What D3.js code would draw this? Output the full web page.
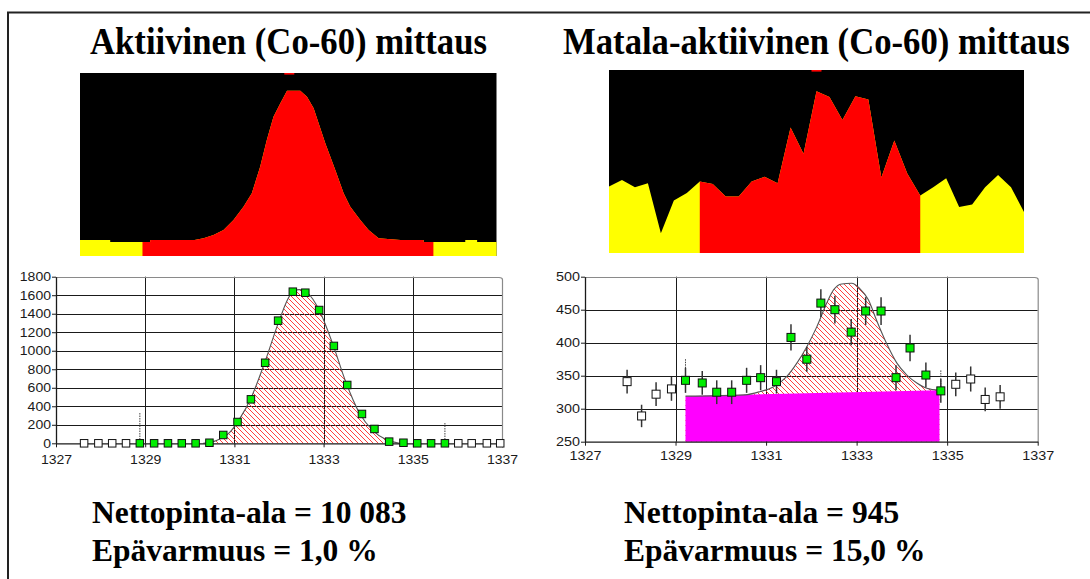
<!DOCTYPE html>
<html><head><meta charset="utf-8">
<script src="https://cdn.jsdelivr.net/npm/d3@7"></script>
<style>
html,body{margin:0;padding:0;background:#fff;}
svg{display:block;}
</style></head><body>
<svg id="c" width="1090" height="579"></svg>
<script>
// ---------- DATA ----------
const titles = ["Aktiivinen (Co-60) mittaus", "Matala-aktiivinen (Co-60) mittaus"];
const netAreas = ["10 083", "945"];
const uncertainties = ["1,0", "15,0"];

// top-left MCA spectrum (channel position, counts)
const topLeftX = [1322, 1323.45, 1323.45, 1325.37, 1325.37, 1327.5, 1327.93, 1328.41, 1328.89, 1329.37, 1329.85, 1330.25, 1330.65, 1330.97, 1331.29, 1331.62, 1331.94, 1332.58, 1332.9, 1333.22, 1333.46, 1333.78, 1334.26, 1334.66, 1334.98, 1335.46, 1335.86, 1336.34, 1337.39, 1338.5, 1338.5, 1340.5, 1340.5, 1341.07, 1341.07, 1342];
const topLeftCounts = [175, 175, 153, 153, 175, 175, 193, 230, 284, 393, 539, 685, 976, 1268, 1523, 1669, 1807, 1807, 1741, 1614, 1450, 1232, 940, 685, 539, 393, 284, 193, 175, 175, 153, 153, 175, 175, 153, 153];
const topLeftRoi = [1325.0, 1338.97];
const topLeftPeak = 1332.05;

// top-right MCA spectrum (one value per channel)
const topRightCounts = [344, 352, 343, 348, 287, 327, 336, 350, 347, 332, 332, 350, 356, 348, 416, 384, 460, 453, 425, 454, 450, 355, 400, 360, 333, 343, 354, 319, 322, 343, 358, 343, 313];
const topRightRoi = [7, 24];
const topRightPeak = 16;

// bottom-left fit chart
const xTicks = [1327, 1329, 1331, 1333, 1335, 1337];
const xGrid = [1329, 1331, 1333, 1335];
const leftYTicks = [0, 200, 400, 600, 800, 1000, 1200, 1400, 1600, 1800];
const leftKeV = [1327.63, 1327.95, 1328.26, 1328.57, 1328.88, 1329.20, 1329.51, 1329.82, 1330.13, 1330.44, 1330.75, 1331.07, 1331.37, 1331.69, 1331.98, 1332.31, 1332.59, 1332.90, 1333.23, 1333.53, 1333.86, 1334.14, 1334.47, 1334.79, 1335.10, 1335.41, 1335.72, 1336.02, 1336.32, 1336.66, 1336.96];
const leftCounts = [0, 0, 0, 0, 0, 0, 0, 0, 0, 6, 90, 230, 475, 870, 1325, 1638, 1627, 1440, 1052, 630, 317, 155, 18, 6, 0, 0, 0, 0, 0, 0, 0];
const leftRoi = [1328.88, 1335.72];
const leftRoiMarkTop = [327, 219];
const leftFitKeV = [1330.3, 1330.6, 1330.9, 1331.1, 1331.4, 1331.7, 1332.0, 1332.25, 1332.45, 1332.65, 1332.9, 1333.2, 1333.5, 1333.8, 1334.1, 1334.4, 1334.7];
const leftFitCounts = [0, 30, 120, 250, 520, 900, 1320, 1600, 1660, 1620, 1440, 1080, 660, 330, 140, 40, 0];

// bottom-right fit chart
const rightYTicks = [250, 300, 350, 400, 450, 500];
const rightKeV = [1327.93, 1328.25, 1328.57, 1328.91, 1329.22, 1329.59, 1329.91, 1330.24, 1330.57, 1330.88, 1331.23, 1331.55, 1331.90, 1332.21, 1332.52, 1332.88, 1333.20, 1333.54, 1333.87, 1334.18, 1334.53, 1334.86, 1335.19, 1335.52, 1335.84, 1336.17];
const rightCounts = [341, 289, 322, 330, 343, 339, 325, 325, 343, 347, 341, 408, 375, 460, 450, 416, 448, 448, 347, 392, 351, 327, 337, 345, 314, 318];
const rightErrors = [18, 17, 18, 18, 19, 18, 18, 18, 19, 19, 18, 20, 19, 21, 21, 20, 21, 21, 19, 20, 19, 18, 18, 19, 18, 18];
const rightRoi = [1329.22, 1334.86];
const rightRoiMarkTop = [375, 358];
const rightBgKeV = [1329.22, 1334.83];
const rightBgCounts = [319, 328];
const rightFitKeV = [1329.22, 1330.53, 1330.87, 1331.16, 1331.46, 1331.68, 1331.90, 1332.12, 1332.34, 1332.49, 1332.67, 1332.89, 1333.07, 1333.26, 1333.44, 1333.66, 1333.89, 1334.11, 1334.33, 1334.55, 1334.83];
const rightFitCounts = [319, 321, 326, 333, 349, 369, 394, 424, 460, 480, 489, 490, 482, 465, 434, 399, 369, 351, 339, 331, 328];

// ---------- DRAW ----------
const svg = d3.select("#c");
const serif = "'Liberation Serif','Times New Roman',serif";
const sans = "'Liberation Sans',Arial,sans-serif";

const defs = svg.append("defs");
const pat = defs.append("pattern").attr("id", "hatch")
  .attr("patternUnits", "userSpaceOnUse").attr("width", 5).attr("height", 5);
pat.append("path").attr("d", "M0,0 L5,5 M-1,4 L1,6 M4,-1 L6,1")
  .attr("stroke", "#ff2a2a").attr("stroke-width", 0.9).attr("fill", "none");

// outer frame (top + left)
svg.append("path").attr("d", "M8,579 L8,12.5 L1090,12.5")
  .attr("fill", "none").attr("stroke", "#222").attr("stroke-width", 2);

// titles (Times-like, slightly tall)
const titleX = [90, 563];
titles.forEach((t, i) => {
  svg.append("text").attr("transform", `translate(${titleX[i]},54) scale(1,1.12)`)
    .attr("font-family", serif).attr("font-weight", "bold").attr("font-size", 34.7)
    .attr("fill", "#000").text(t);
});

// bottom texts
const textX = [92, 624];
netAreas.forEach((v, i) => {
  svg.append("text").attr("x", textX[i]).attr("y", 523)
    .attr("font-family", serif).attr("font-weight", "bold").attr("font-size", 31.5)
    .attr("fill", "#000").text("Nettopinta-ala = " + v);
  svg.append("text").attr("x", textX[i]).attr("y", 561)
    .attr("font-family", serif).attr("font-weight", "bold").attr("font-size", 31.5)
    .attr("fill", "#000").text("Epävarmuus = " + uncertainties[i] + " %");
});

// ---- top spectra ----
function spectrum(id, xs, ys, xDom, yDom, box, roi, peak) {
  const g = svg.append("g");
  const x = d3.scaleLinear().domain(xDom).range([box.x0, box.x1]);
  const y = d3.scaleLinear().domain(yDom).range([box.y1, box.y0]);
  g.append("rect").attr("x", box.x0).attr("y", box.y0)
    .attr("width", box.x1 - box.x0).attr("height", box.y1 - box.y0).attr("fill", "#000");
  const area = d3.area().x((d, i) => x(xs[i])).y0(box.y1).y1(d => y(d));
  g.append("path").datum(ys).attr("d", area).attr("fill", "#ffff00");
  defs.append("clipPath").attr("id", id).append("rect")
    .attr("x", x(roi[0])).attr("y", box.y0)
    .attr("width", x(roi[1]) - x(roi[0])).attr("height", box.y1 - box.y0);
  g.append("path").datum(ys).attr("d", area).attr("fill", "#ff0000")
    .attr("clip-path", `url(#${id})`);
  g.append("rect").attr("x", x(peak) - 5).attr("y", box.y0).attr("width", 10).attr("height", 1.6)
    .attr("fill", "#ff0000");
}
spectrum("clipTL", topLeftX, topLeftCounts, [1322, 1342], [0, 2000],
  {x0: 80, x1: 496.5, y0: 73, y1: 256}, topLeftRoi, topLeftPeak);
spectrum("clipTR", d3.range(topRightCounts.length), topRightCounts, [0, topRightCounts.length - 1], [263, 486],
  {x0: 609, x1: 1024, y0: 70, y1: 253}, topRightRoi, topRightPeak);

// ---- bottom fit charts ----
function fitChart(cfg) {
  const g = svg.append("g");
  const x = d3.scaleLinear().domain([xTicks[0], xTicks[xTicks.length - 1]]).range([cfg.x0, cfg.x1]);
  const y = d3.scaleLinear().domain([cfg.yTicks[0], cfg.yTicks[cfg.yTicks.length - 1]]).range([cfg.y1, cfg.y0]);

  // grid
  g.append("g").selectAll("line").data(cfg.yTicks.slice(1, -1)).join("line")
    .attr("x1", cfg.x0).attr("x2", cfg.x1).attr("y1", d => Math.round(y(d)) + 0.5).attr("y2", d => Math.round(y(d)) + 0.5)
    .attr("stroke", "#1a1a1a").attr("stroke-width", 1);
  g.append("g").selectAll("line").data(xGrid).join("line")
    .attr("y1", cfg.y0).attr("y2", cfg.y1).attr("x1", d => Math.round(x(d)) + 0.5).attr("x2", d => Math.round(x(d)) + 0.5)
    .attr("stroke", "#1a1a1a").attr("stroke-width", 1);

  // hatched net area
  const fitArea = d3.area().curve(d3.curveMonotoneX)
    .x((d, i) => x(cfg.fitKeV[i])).y0(y(cfg.yTicks[0])).y1(d => y(d));
  g.append("path").datum(cfg.fitCounts).attr("d", fitArea).attr("fill", "url(#hatch)");

  // background
  if (cfg.bgKeV) {
    const bgArea = d3.area().x((d, i) => x(cfg.bgKeV[i])).y0(y(cfg.yTicks[0])).y1(d => y(d));
    g.append("path").datum(cfg.bgCounts).attr("d", bgArea).attr("fill", "#ff00ff");
  }

  // fit line
  const fitLine = d3.line().curve(d3.curveMonotoneX).x((d, i) => x(cfg.fitKeV[i])).y(d => y(d));
  g.append("path").datum(cfg.fitCounts).attr("d", fitLine)
    .attr("fill", "none").attr("stroke", "#555").attr("stroke-width", 1.1);

  // frame top/right
  g.append("path").attr("d", `M${cfg.x0},${Math.round(cfg.y0) + 0.5} L${cfg.x1 - 3},${Math.round(cfg.y0) + 0.5} Q${cfg.x1 + 0.5},${Math.round(cfg.y0) + 0.5} ${cfg.x1 + 0.5},${cfg.y0 + 3} L${cfg.x1 + 0.5},${cfg.y1}`)
    .attr("fill", "none").attr("stroke", "#8a8a8a").attr("stroke-width", 1.2);

  // axes
  const fmt = d3.format("d");
  const ay = g.append("g").attr("transform", `translate(${cfg.x0},0)`)
    .call(d3.axisLeft(y).tickValues(cfg.yTicks).tickFormat(fmt).tickSize(4).tickSizeOuter(0).tickPadding(1));
  const ax = g.append("g").attr("transform", `translate(0,${cfg.y1})`)
    .call(d3.axisBottom(x).tickValues(xTicks).tickFormat(fmt).tickSize(4).tickSizeOuter(0).tickPadding(cfg.xPad));
  [ay, ax].forEach(a => {
    a.select(".domain").attr("stroke", "#1a1a1a").attr("stroke-width", 1.3);
    a.selectAll(".tick line").attr("stroke", "#1a1a1a");
    a.selectAll("text").attr("font-family", sans).attr("font-size", 13).attr("fill", "#1a1a1a")
      .attr("textLength", function () { return this.textContent.length * cfg.digitW; })
      .attr("lengthAdjust", "spacingAndGlyphs");
  });

  // ROI markers
  g.append("g").selectAll("line").data(cfg.roi).join("line")
    .attr("x1", d => x(d)).attr("x2", d => x(d))
    .attr("y1", (d, i) => y(cfg.roiMarkTop[i])).attr("y2", (d, i) => y(cfg.roiMarkBottom[i]))
    .attr("stroke", "#444").attr("stroke-width", 1).attr("stroke-dasharray", "1.5,1");

  // error bars
  if (cfg.errors) {
    g.append("g").selectAll("line").data(cfg.counts).join("line")
      .attr("x1", (d, i) => x(cfg.keV[i])).attr("x2", (d, i) => x(cfg.keV[i]))
      .attr("y1", (d, i) => y(d - cfg.errors[i])).attr("y2", (d, i) => y(d + cfg.errors[i]))
      .attr("stroke", "#333").attr("stroke-width", 1.5);
  }
  // markers
  const s = cfg.size;
  g.append("g").selectAll("rect").data(cfg.counts).join("rect")
    .attr("x", (d, i) => x(cfg.keV[i]) - s / 2).attr("y", d => y(d) - s / 2)
    .attr("width", s).attr("height", s)
    .attr("fill", (d, i) => (cfg.keV[i] >= cfg.roi[0] - 0.01 && cfg.keV[i] <= cfg.roi[1] + 0.01) ? "#00ee00" : "#ffffff")
    .attr("stroke", "#111").attr("stroke-width", 1);
}

fitChart({
  x0: 56, x1: 502, y0: 276.7, y1: 443.3, yTicks: leftYTicks,
  keV: leftKeV, counts: leftCounts, roi: leftRoi, roiMarkTop: leftRoiMarkTop, roiMarkBottom: [0, 0],
  fitKeV: leftFitKeV, fitCounts: leftFitCounts, xPad: 7, digitW: 7.8, size: 7.5
});
fitChart({
  x0: 585, x1: 1037.7, y0: 276.7, y1: 441.7, yTicks: rightYTicks,
  keV: rightKeV, counts: rightCounts, errors: rightErrors, roi: rightRoi,
  roiMarkTop: rightRoiMarkTop, roiMarkBottom: [343, 327],
  bgKeV: rightBgKeV, bgCounts: rightBgCounts,
  fitKeV: rightFitKeV, fitCounts: rightFitCounts, xPad: 5, digitW: 8, size: 8
});
</script>
</body></html>
